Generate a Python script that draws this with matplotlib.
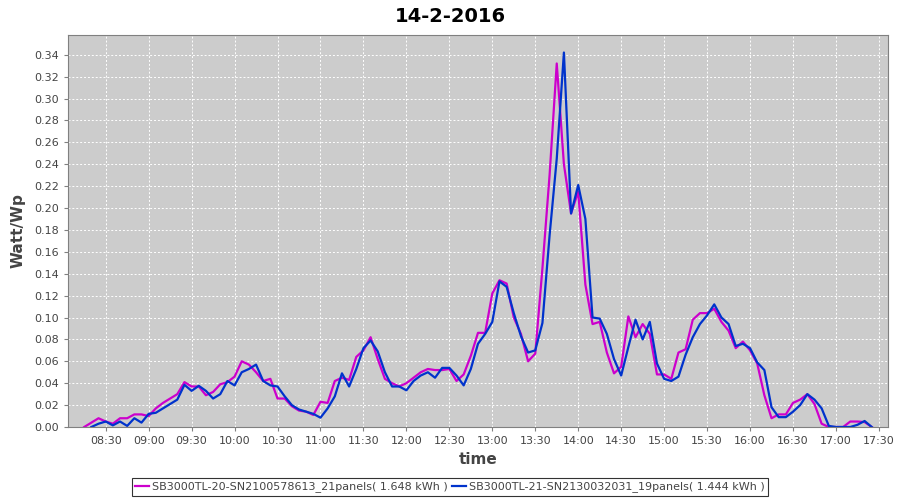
import numpy as np
import matplotlib
matplotlib.use("Agg")
import matplotlib.pyplot as plt
from matplotlib.ticker import FuncFormatter, MultipleLocator

# readings every 5 minutes, Watt per Wp
times_sb20 = ["08:15", "08:20", "08:25", "08:30", "08:35", "08:40", "08:45", "08:50", "08:55",
              "09:00", "09:05", "09:10", "09:15", "09:20", "09:25", "09:30", "09:35", "09:40", "09:45", "09:50", "09:55",
              "10:00", "10:05", "10:10", "10:15", "10:20", "10:25", "10:30", "10:35", "10:40", "10:45", "10:50", "10:55",
              "11:00", "11:05", "11:10", "11:15", "11:20", "11:25", "11:30", "11:35", "11:40", "11:45", "11:50", "11:55",
              "12:00", "12:05", "12:10", "12:15", "12:20", "12:25", "12:30", "12:35", "12:40", "12:45", "12:50", "12:55",
              "13:00", "13:05", "13:10", "13:15", "13:20", "13:25", "13:30", "13:35", "13:40", "13:45", "13:50", "13:55",
              "14:00", "14:05", "14:10", "14:15", "14:20", "14:25", "14:30", "14:35", "14:40", "14:45", "14:50", "14:55",
              "15:00", "15:05", "15:10", "15:15", "15:20", "15:25", "15:30", "15:35", "15:40", "15:45", "15:50", "15:55",
              "16:00", "16:05", "16:10", "16:15", "16:20", "16:25", "16:30", "16:35", "16:40", "16:45", "16:50", "16:55",
              "17:00", "17:05", "17:10", "17:15", "17:20", "17:25"]
sb20 = [0.000, 0.004, 0.008, 0.005, 0.003, 0.008, 0.008, 0.0115, 0.0115,
        0.010, 0.017, 0.022, 0.026, 0.030, 0.041, 0.037, 0.037, 0.029, 0.032, 0.039, 0.041,
        0.046, 0.060, 0.057, 0.050, 0.042, 0.044, 0.026, 0.026, 0.019, 0.015, 0.014, 0.011,
        0.023, 0.022, 0.042, 0.045, 0.043, 0.064, 0.070, 0.082, 0.062, 0.044, 0.040, 0.037,
        0.040, 0.045, 0.050, 0.053, 0.052, 0.052, 0.053, 0.042, 0.048, 0.065, 0.086, 0.086,
        0.122, 0.134, 0.131, 0.100, 0.085, 0.060, 0.067, 0.145, 0.230, 0.332, 0.240, 0.195,
        0.215, 0.130, 0.094, 0.096, 0.068, 0.049, 0.055, 0.101, 0.082, 0.094, 0.085, 0.048,
        0.048, 0.044, 0.068, 0.071, 0.098, 0.104, 0.104, 0.108, 0.096, 0.088, 0.072, 0.078,
        0.070, 0.058, 0.029, 0.008, 0.0115, 0.0115, 0.022, 0.025, 0.030, 0.021, 0.003, 0.000,
        0.000, 0.000, 0.005, 0.005, 0.0045, 0.000]

times_sb21 = times_sb20[1:]
sb21 = [0.000, 0.003, 0.005, 0.0015, 0.005, 0.001, 0.008, 0.004,
        0.012, 0.013, 0.017, 0.021, 0.025, 0.0385, 0.033, 0.0376, 0.033, 0.026, 0.030, 0.042,
        0.038, 0.050, 0.053, 0.057, 0.042, 0.038, 0.037, 0.028, 0.020, 0.016, 0.014, 0.012,
        0.0085, 0.017, 0.028, 0.049, 0.037, 0.053, 0.072, 0.079, 0.069, 0.050, 0.037, 0.037,
        0.0335, 0.042, 0.047, 0.050, 0.045, 0.054, 0.054, 0.047, 0.038, 0.053, 0.076, 0.085,
        0.096, 0.133, 0.128, 0.104, 0.083, 0.068, 0.070, 0.095, 0.175, 0.245, 0.342, 0.195,
        0.221, 0.190, 0.100, 0.099, 0.085, 0.062, 0.047, 0.073, 0.098, 0.080, 0.096, 0.058,
        0.044, 0.042, 0.046, 0.066, 0.082, 0.094, 0.102, 0.112, 0.100, 0.094, 0.074, 0.076,
        0.072, 0.059, 0.052, 0.018, 0.009, 0.009, 0.014, 0.020, 0.030, 0.025, 0.017, 0.001,
        0.000, 0.000, 0.000, 0.002, 0.0055, 0.000]

label_sb20 = "SB3000TL-20-SN2100578613_21panels( 1.648 kWh )"
label_sb21 = "SB3000TL-21-SN2130032031_19panels( 1.444 kWh )"


def to_min(s):
    h, m = s.split(":")
    return int(h) * 60 + int(m)


x20 = [to_min(t) for t in times_sb20]
x21 = [to_min(t) for t in times_sb21]

grey_txt = "#444444"

fig = plt.figure(figsize=(9, 5), dpi=100)
ax = fig.add_axes([0.0756, 0.146, 0.911, 0.784])
ax.set_facecolor("#cccccc")

ax.plot(x20, sb20, color="#cc00cc", lw=1.6, label=label_sb20)
ax.plot(x21, sb21, color="#0033cc", lw=1.6, label=label_sb21)

ax.set_xlim(483.7, 1056.3)
ax.set_ylim(0, 0.358)
ax.xaxis.set_major_locator(MultipleLocator(30))
ax.xaxis.set_major_formatter(FuncFormatter(lambda v, p: "%02d:%02d" % (int(v) // 60, int(v) % 60)))
ax.yaxis.set_major_locator(MultipleLocator(0.02))
ax.yaxis.set_major_formatter(FuncFormatter(lambda v, p: "%.2f" % v))

ax.grid(True, color="white", ls=(0, (2, 2)), lw=0.7)
ax.set_axisbelow(True)
for sp in ax.spines.values():
    sp.set_color("#808080")
ax.tick_params(colors="#808080", labelcolor=grey_txt, labelsize=8, length=3)

ax.set_xlabel("time", fontsize=11, color=grey_txt, fontweight="bold", labelpad=4)
ax.set_ylabel("Watt/Wp", fontsize=11, color=grey_txt, fontweight="bold", labelpad=6)
fig.suptitle("14-2-2016", fontsize=14, fontweight="bold", y=0.985)

leg = fig.legend(loc="center", bbox_to_anchor=(0.5, 0.026), ncol=2, fontsize=8,
                 frameon=True, fancybox=False, handlelength=1.2, handletextpad=0.3,
                 columnspacing=0.4, borderpad=0.3, labelcolor=grey_txt)
leg.get_frame().set_edgecolor("black")
leg.get_frame().set_linewidth(0.8)

fig.savefig("out.png", dpi=100, facecolor="white")
